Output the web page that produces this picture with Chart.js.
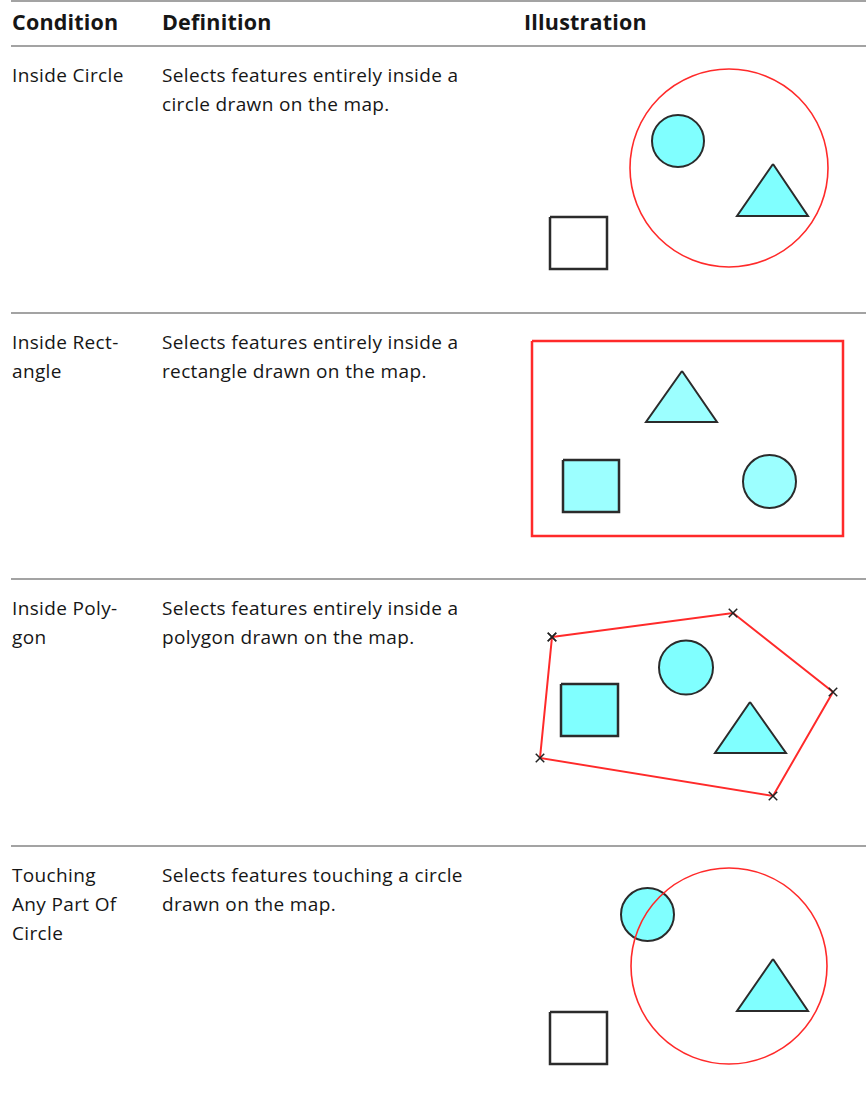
<!DOCTYPE html>
<html>
<head>
<meta charset="utf-8">
<script src="https://cdn.jsdelivr.net/npm/chart.js@4"></script>
<style>
    body {
        margin: 0;
        background: #fff;
        width: 866px;
        height: 1107px;
        position: relative;
        overflow: hidden;
        font-family: 'Open Sans', 'Noto Sans', sans-serif;
        color: #161616;
    }
    .rule {
        position: absolute;
        left: 11px;
        right: 0;
        height: 2px;
        background: #a3a3a3;
    }
    .cell {
        position: absolute;
        font-size: 19px;
        letter-spacing: 0.35px;
        line-height: 29px;
        white-space: nowrap;
    }
    .head {
        font-weight: bold;
        font-size: 21.5px;
        letter-spacing: 0.2px;
    }
    .plot {
        position: absolute;
        left: 524px;
        width: 342px;
        height: 266px;
    }
</style>
</head>
<body>
<div id="table"></div>
<script>
// table text
const headers = ['Condition', 'Definition', 'Illustration'];
const conditions = [
    'Inside Circle',
    'Inside Rect-\nangle',
    'Inside Poly-\ngon',
    'Touching\nAny Part Of\nCircle'
];
const definitions = [
    'Selects features entirely inside a\ncircle drawn on the map.',
    'Selects features entirely inside a\nrectangle drawn on the map.',
    'Selects features entirely inside a\npolygon drawn on the map.',
    'Selects features touching a circle\ndrawn on the map.'
];

// illustration shapes, in units of each illustration box (x right, y down)
// row 1: inside circle
const r1Selector = [{ x: 205, y: 123, r: 99 }];
const r1Circle = [{ x: 154, y: 96, r: 26 }];
const r1Triangle = [{ x: 249, y: 119 }, { x: 284, y: 171 }, { x: 213, y: 171 }, { x: 249, y: 119 }];
const r1Square = [{ x: 26, y: 172 }, { x: 83, y: 172 }, { x: 83, y: 224 }, { x: 26, y: 224 }, { x: 26, y: 172 }];
// row 2: inside rectangle
const r2Selector = [{ x: 8, y: 29 }, { x: 319, y: 29 }, { x: 319, y: 224 }, { x: 8, y: 224 }, { x: 8, y: 29 }];
const r2Triangle = [{ x: 158, y: 59 }, { x: 193, y: 110 }, { x: 122, y: 110 }, { x: 158, y: 59 }];
const r2Square = [{ x: 39, y: 148 }, { x: 95, y: 148 }, { x: 95, y: 200 }, { x: 39, y: 200 }, { x: 39, y: 148 }];
const r2Circle = [{ x: 245.5, y: 169.5, r: 26.5 }];
// row 3: inside polygon
const r3Selector = [{ x: 28, y: 59 }, { x: 209, y: 35 }, { x: 309, y: 114 }, { x: 249, y: 218 }, { x: 16, y: 180 }, { x: 28, y: 59 }];
const r3Circle = [{ x: 162, y: 89.5, r: 27 }];
const r3Square = [{ x: 37, y: 106 }, { x: 94, y: 106 }, { x: 94, y: 158 }, { x: 37, y: 158 }, { x: 37, y: 106 }];
const r3Triangle = [{ x: 226, y: 124 }, { x: 262, y: 175 }, { x: 191, y: 175 }, { x: 226, y: 124 }];
// row 4: touching circle
const r4Selector = [{ x: 205, y: 121, r: 98 }];
const r4Circle = [{ x: 123.5, y: 69.5, r: 26.5 }];
const r4Triangle = [{ x: 249, y: 114 }, { x: 284, y: 166 }, { x: 213, y: 166 }, { x: 249, y: 114 }];
const r4Square = [{ x: 26, y: 167 }, { x: 83, y: 167 }, { x: 83, y: 219 }, { x: 26, y: 219 }, { x: 26, y: 167 }];

const ruleTops = [0, 45, 312, 578, 845];
const rowTops = [45, 312, 578, 845];

const table = document.getElementById('table');

ruleTops.forEach((top) => {
    const rule = document.createElement('div');
    rule.classList.add('rule');
    rule.style.top = top + 'px';
    table.appendChild(rule);
});

const columnLefts = [12, 162, 524];
headers.forEach((text, i) => {
    const cell = document.createElement('div');
    cell.classList.add('cell', 'head');
    cell.style.left = columnLefts[i] + 'px';
    cell.style.top = '7px';
    cell.textContent = text;
    table.appendChild(cell);
});

function addCell(text, left, top) {
    const cell = document.createElement('div');
    cell.classList.add('cell');
    cell.style.left = left + 'px';
    cell.style.top = top + 'px';
    text.split('\n').forEach((line, i) => {
        if (i > 0) cell.appendChild(document.createElement('br'));
        cell.appendChild(document.createTextNode(line));
    });
    table.appendChild(cell);
}

rowTops.forEach((top, i) => {
    addCell(conditions[i], columnLefts[0], top + 16);
    addCell(definitions[i], columnLefts[1], top + 16);
});

// styles
const red = '#ff2a2a';
const outline = '#2b2b2b';
const cyan = '#80ffff';
const paleCyan = '#9cffff';

function selectorCircle(data) {
    return {
        type: 'bubble',
        data: data,
        backgroundColor: 'rgba(0,0,0,0)',
        borderColor: red,
        borderWidth: 1.6
    };
}
function featureCircle(data, fillColor) {
    return {
        type: 'bubble',
        data: data,
        backgroundColor: fillColor,
        borderColor: outline,
        borderWidth: 2
    };
}
function shape(data, lineColor, fillColor, width) {
    return {
        type: 'line',
        data: data,
        borderColor: lineColor,
        backgroundColor: fillColor || 'rgba(0,0,0,0)',
        borderWidth: width,
        fill: fillColor ? 'shape' : false,
        pointRadius: 0,
        tension: 0,
        borderJoinStyle: 'miter'
    };
}

const illustrations = [
    [
        selectorCircle(r1Selector),
        featureCircle(r1Circle, cyan),
        shape(r1Triangle, outline, cyan, 2),
        shape(r1Square, outline, null, 2.5)
    ],
    [
        shape(r2Selector, red, null, 2.5),
        shape(r2Triangle, outline, paleCyan, 2),
        shape(r2Square, outline, paleCyan, 2.5),
        featureCircle(r2Circle, paleCyan)
    ],
    [
        Object.assign(shape(r3Selector, red, null, 2), {
            pointRadius: 6,
            pointStyle: 'crossRot',
            pointBorderColor: '#222',
            pointBorderWidth: 1.5
        }),
        featureCircle(r3Circle, cyan),
        shape(r3Square, outline, cyan, 2.5),
        shape(r3Triangle, outline, cyan, 2)
    ],
    [
        selectorCircle(r4Selector),
        featureCircle(r4Circle, cyan),
        shape(r4Triangle, outline, cyan, 2),
        shape(r4Square, outline, null, 2.5)
    ]
];

illustrations.forEach((datasets, i) => {
    const box = document.createElement('div');
    box.classList.add('plot');
    box.style.top = rowTops[i] + 'px';
    const canvas = document.createElement('canvas');
    box.appendChild(canvas);
    document.body.appendChild(box);

    new Chart(canvas.getContext('2d'), {
        type: 'scatter',
        data: { datasets: datasets },
        options: {
            responsive: true,
            maintainAspectRatio: false,
            animation: false,
            layout: { padding: 0, autoPadding: false },
            scales: {
                x: { type: 'linear', min: 0, max: 342, display: false },
                y: { type: 'linear', min: 0, max: 266, reverse: true, display: false }
            },
            plugins: {
                legend: { display: false },
                tooltip: { enabled: false }
            }
        }
    });
});
</script>
</body>
</html>
